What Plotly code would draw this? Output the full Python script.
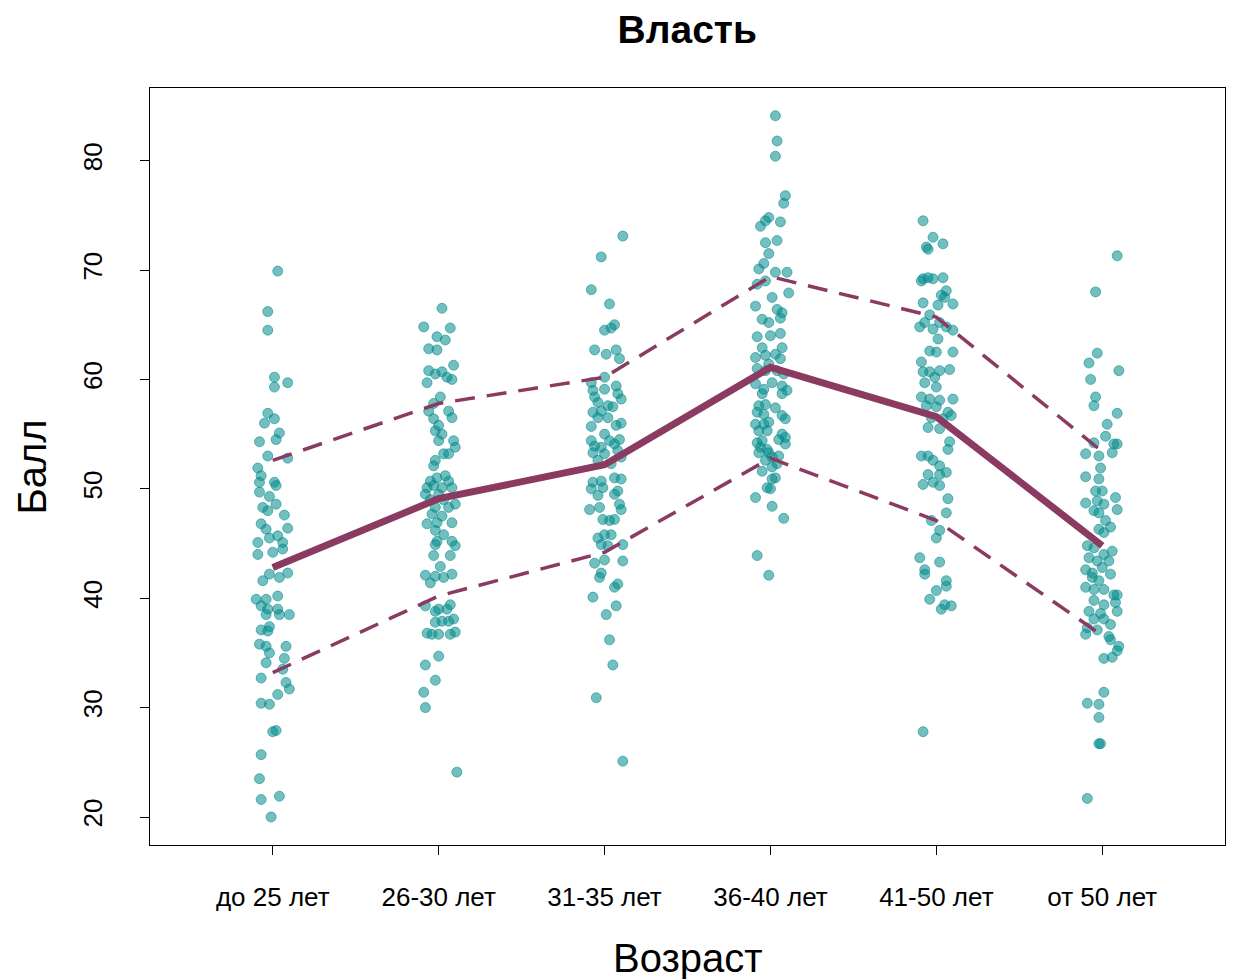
import plotly.graph_objects as go

categories = ["до 25 лет", "26-30 лет", "31-35 лет", "36-40 лет", "41-50 лет", "от 50 лет"]

g1_y = [69.9, 66.2, 64.5, 60.2, 59.7, 59.3, 56.9, 56.4, 56.0, 55.1, 54.5, 54.3, 53.0, 52.8, 51.9, 51.2,
        50.6, 50.6, 50.3, 49.7, 49.3, 48.6, 48.3, 48.0, 47.6, 46.8, 46.3, 46.4, 45.1, 45.5, 45.7, 45.1,
        44.0, 44.2, 44.5, 42.2, 41.6, 41.9, 42.3, 39.9, 39.9, 40.2, 39.3, 39.0, 39.0, 38.5, 38.5, 38.5,
        37.1, 37.0, 37.4, 35.8, 35.6, 35.0, 35.6, 34.5, 34.1, 33.5, 32.3, 31.7, 32.7, 31.2, 30.4, 30.3,
        27.8, 27.9, 25.7, 23.5, 21.6, 21.9, 20.0]
g1_j = [0.03, -0.03, -0.03, 0.01, 0.09, 0.01, -0.03, 0.01, -0.05, 0.04, 0.02, -0.08, -0.03, 0.09, -0.09, -0.07,
        -0.08, 0.01, 0.02, -0.08, -0.02, 0.02, -0.06, -0.03, 0.07, -0.07, -0.04, 0.09, -0.09, -0.02, 0.03, 0.06,
        -0.09, 0.00, 0.06, -0.02, -0.06, 0.04, 0.09, -0.10, -0.04, 0.03, -0.07, -0.03, 0.03, 0.04, 0.10, -0.04,
        -0.07, -0.03, -0.02, -0.08, -0.04, -0.02, 0.08, 0.07, -0.04, 0.06, 0.08, 0.10, -0.07, 0.03, -0.07, -0.02,
        0.00, 0.02, -0.07, -0.08, -0.07, 0.04, -0.01]

g2_y = [66.5, 64.8, 64.7, 63.9, 63.6, 62.8, 62.7, 61.3, 60.8, 60.5, 60.7, 60.2, 60.0, 59.7, 58.4, 57.8,
        57.1, 57.1, 56.5, 56.4, 55.8, 55.3, 55.0, 54.4, 54.4, 53.8, 53.2, 53.2, 52.6, 52.1, 50.7, 51.0,
        51.2, 50.7, 50.1, 50.3, 50.1, 50.1, 49.5, 49.5, 49.0, 49.0, 48.6, 48.3, 48.3, 47.7, 47.5, 46.9,
        46.9, 46.8, 46.2, 45.8, 45.2, 45.2, 44.9, 44.8, 43.9, 43.9, 42.9, 42.1, 42.0, 41.9, 42.2, 41.4,
        39.3, 38.8, 39.4, 39.0, 39.0, 37.8, 37.9, 37.9, 38.1, 36.8, 36.7, 36.7, 36.7, 36.9, 34.7, 33.9,
        32.5, 31.4, 30.0, 24.1]
g2_j = [0.02, -0.09, 0.07, -0.01, 0.04, -0.06, -0.01, 0.09, -0.06, -0.02, 0.02, 0.05, 0.08, -0.07, 0.01, -0.03,
        -0.06, 0.06, 0.08, -0.03, 0.00, -0.02, 0.02, 0.09, 0.00, 0.10, 0.03, 0.06, -0.02, -0.03, -0.05, -0.01,
        0.04, 0.06, -0.07, -0.03, 0.02, 0.08, -0.08, 0.00, -0.05, 0.03, 0.10, -0.02, 0.06, -0.04, 0.02, 0.08,
        -0.01, -0.07, -0.02, 0.03, 0.08, -0.01, -0.02, 0.10, -0.03, 0.07, 0.01, -0.08, -0.02, 0.03, 0.08, -0.05,
        -0.08, -0.02, 0.07, 0.00, 0.05, -0.02, 0.02, 0.06, 0.09, -0.07, -0.04, 0.00, 0.07, 0.10, 0.00, -0.08,
        -0.02, -0.09, -0.08, 0.11]

g3_y = [73.1, 71.2, 68.2, 66.9, 65.0, 64.5, 64.7, 62.7, 62.3, 62.7, 61.9, 60.2, 59.7, 59.0, 59.1, 59.4,
        58.4, 58.7, 57.9, 57.6, 58.2, 57.0, 57.5, 57.1, 56.5, 56.5, 55.7, 56.0, 55.8, 55.0, 54.4, 54.4,
        54.5, 53.9, 54.1, 53.8, 53.3, 53.2, 53.5, 52.9, 52.6, 52.3, 50.6, 50.7, 51.0, 50.9, 50.0, 50.1,
        49.8, 49.4, 49.5, 48.1, 48.3, 48.1, 48.6, 47.2, 47.1, 47.2, 45.5, 45.8, 45.8, 44.9, 44.8, 44.9,
        43.2, 43.5, 43.4, 42.3, 41.9, 41.3, 41.0, 40.1, 39.3, 38.5, 36.2, 33.9, 30.9, 25.1]
g3_j = [0.11, -0.02, -0.08, 0.03, 0.06, 0.00, 0.04, -0.06, 0.01, 0.07, 0.09, 0.00, -0.08, -0.07, 0.00, 0.07,
        -0.06, 0.08, -0.04, 0.02, 0.10, -0.07, 0.05, -0.02, -0.04, 0.02, -0.08, 0.10, 0.07, 0.00, -0.08, 0.03,
        0.09, -0.06, 0.06, -0.02, -0.07, 0.00, 0.08, 0.10, -0.04, 0.04, -0.07, -0.02, 0.06, 0.10, -0.08, -0.01,
        0.08, -0.04, 0.06, -0.09, -0.03, 0.10, 0.09, -0.01, 0.03, 0.06, -0.04, 0.00, 0.04, -0.02, 0.02, 0.11,
        -0.06, 0.00, 0.11, -0.02, -0.03, 0.08, 0.06, -0.07, 0.07, 0.01, 0.03, 0.05, -0.05, 0.11]

g4_y = [84.1, 81.8, 80.4, 76.8, 76.1, 74.8, 74.5, 74.0, 74.4, 72.5, 72.7, 71.5, 70.6, 70.1, 69.8, 69.8,
        68.7, 69.0, 67.5, 67.9, 66.7, 66.4, 66.1, 65.5, 65.2, 65.6, 63.9, 64.0, 64.2, 62.9, 62.9, 62.0,
        62.2, 62.3, 61.9, 61.4, 61.0, 60.8, 60.8, 60.5, 59.6, 59.1, 59.7, 59.4, 59.0, 58.7, 58.7, 57.6,
        57.7, 57.4, 57.0, 56.8, 56.7, 56.4, 55.9, 55.9, 56.1, 55.3, 55.3, 55.0, 54.5, 54.7, 54.2, 54.4,
        54.1, 53.8, 53.6, 53.3, 53.3, 53.0, 52.9, 52.6, 52.3, 52.0, 51.6, 51.0, 50.9, 50.1, 50.0, 49.2,
        48.4, 47.3, 43.9, 42.1]
g4_j = [0.03, 0.04, 0.03, 0.09, 0.08, -0.01, -0.03, -0.06, 0.06, -0.03, 0.04, -0.01, -0.04, -0.07, 0.03, 0.10,
        -0.08, -0.03, 0.01, 0.11, -0.09, 0.04, 0.07, -0.05, -0.01, 0.06, -0.08, 0.00, 0.06, -0.05, 0.07, -0.09,
        -0.03, 0.03, 0.06, -0.01, -0.08, -0.03, 0.04, 0.08, -0.09, -0.04, 0.01, 0.07, 0.10, -0.05, 0.07, -0.07,
        -0.03, 0.03, -0.08, -0.04, 0.07, 0.09, -0.09, -0.04, -0.01, -0.07, -0.02, 0.07, 0.05, 0.09, -0.08, -0.05,
        0.09, -0.06, -0.02, -0.07, -0.01, 0.05, 0.01, -0.03, 0.04, 0.01, -0.05, 0.03, 0.01, -0.02, 0.00, -0.09,
        0.01, 0.08, -0.08, -0.01]

g5_y = [74.5, 73.0, 72.4, 72.1, 71.9, 69.2, 69.3, 69.2, 69.3, 69.0, 68.1, 67.7, 67.5, 66.9, 66.8, 67.0,
        65.9, 65.2, 65.2, 64.8, 64.6, 64.8, 64.5, 63.7, 62.6, 62.5, 62.5, 61.6, 60.7, 60.7, 60.8, 60.9,
        59.7, 60.2, 59.3, 58.4, 58.2, 58.1, 58.2, 57.6, 57.5, 57.0, 56.7, 56.5, 56.4, 55.6, 55.5, 54.3,
        53.6, 53.0, 53.0, 52.6, 52.1, 51.5, 51.3, 51.3, 50.4, 50.6, 50.3, 49.1, 47.8, 47.1, 45.5, 46.2,
        43.7, 43.3, 42.6, 42.2, 41.6, 41.1, 40.7, 39.9, 39.4, 39.3, 39.0, 27.8]
g5_j = [-0.08, -0.02, 0.04, -0.06, -0.05, -0.08, -0.05, -0.02, 0.04, -0.09, 0.06, 0.03, 0.05, 0.10, 0.01, -0.08,
        -0.04, -0.07, 0.02, -0.10, -0.02, 0.06, 0.10, 0.01, -0.04, 0.00, 0.10, -0.09, -0.08, -0.04, 0.02, 0.08,
        -0.07, -0.01, 0.00, -0.09, -0.04, 0.02, 0.10, -0.06, 0.00, 0.07, 0.09, -0.03, 0.04, -0.05, 0.02, 0.08,
        0.07, -0.09, -0.05, -0.02, 0.02, 0.06, -0.05, 0.02, -0.08, -0.02, 0.02, 0.07, 0.06, -0.03, 0.00, 0.02,
        -0.10, 0.02, -0.07, -0.07, 0.06, 0.06, 0.00, -0.04, 0.05, 0.09, 0.03, -0.08]

g6_y = [71.3, 68.0, 62.4, 61.5, 60.8, 60.0, 58.4, 57.6, 56.9, 55.9, 54.8, 54.2, 54.1, 54.1, 53.2, 53.0,
        53.3, 51.9, 51.1, 50.9, 49.8, 49.8, 49.2, 48.1, 48.7, 48.9, 48.6, 48.0, 47.8, 47.1, 46.5, 46.3,
        46.0, 44.8, 44.6, 44.3, 44.0, 43.7, 43.4, 43.4, 42.2, 42.6, 42.3, 42.8, 41.9, 41.6, 41.0, 40.8,
        40.8, 40.3, 40.3, 39.6, 39.8, 39.4, 38.8, 38.6, 38.8, 38.1, 38.1, 37.3, 37.1, 37.6, 36.7, 36.5,
        36.2, 35.6, 35.2, 34.5, 34.6, 31.4, 30.4, 30.3, 29.1, 26.7, 26.7, 21.7]
g6_j = [0.09, -0.04, -0.03, -0.08, 0.10, -0.07, -0.04, -0.05, 0.09, 0.03, 0.02, -0.05, 0.07, 0.09, -0.10, -0.02,
        0.06, -0.01, -0.10, -0.02, -0.04, 0.00, 0.08, 0.09, -0.10, -0.03, 0.01, -0.05, -0.02, 0.02, 0.05, -0.02,
        0.01, -0.09, -0.05, 0.06, 0.01, -0.08, -0.03, 0.04, 0.05, -0.10, -0.06, 0.00, -0.06, -0.02, -0.10, -0.05,
        0.01, 0.07, 0.09, 0.08, -0.05, 0.01, -0.08, -0.01, 0.09, -0.05, 0.01, -0.09, -0.03, 0.05, -0.10, 0.04,
        0.05, 0.10, 0.09, 0.01, 0.06, 0.01, -0.09, -0.02, -0.02, -0.02, -0.01, -0.09]

group_y = [g1_y, g2_y, g3_y, g4_y, g5_y, g6_y]
group_j = [g1_j, g2_j, g3_j, g4_j, g5_j, g6_j]

mean_vals = [42.8, 49.1, 52.2, 61.1, 56.6, 44.8]
upper_vals = [52.6, 57.8, 60.2, 69.4, 65.7, 53.4]
lower_vals = [33.2, 40.2, 44.2, 52.8, 47.1, 36.6]

positions = list(range(1, len(categories) + 1))

pts_x, pts_y = [], []
for i, (ys, js) in enumerate(zip(group_y, group_j)):
    for y, j in zip(ys, js):
        pts_x.append(positions[i] + j)
        pts_y.append(y)

PT = "rgba(0,139,139,0.55)"
LINE = "#8B3A62"
FONT = "Liberation Sans, Arial, sans-serif"

fig = go.Figure()
fig.add_trace(go.Scatter(x=pts_x, y=pts_y, mode="markers",
                         marker=dict(size=10, color=PT, line=dict(color=PT, width=1)),
                         showlegend=False, hoverinfo="skip"))
fig.add_trace(go.Scatter(x=positions, y=upper_vals, mode="lines",
                         line=dict(color=LINE, width=3.5, dash="20px,12px"), showlegend=False))
fig.add_trace(go.Scatter(x=positions, y=lower_vals, mode="lines",
                         line=dict(color=LINE, width=3.5, dash="20px,12px"), showlegend=False))
fig.add_trace(go.Scatter(x=positions, y=mean_vals, mode="lines",
                         line=dict(color=LINE, width=7), showlegend=False))

fig.update_layout(
    width=1226, height=971,
    margin=dict(l=142, r=9, t=80, b=134),
    plot_bgcolor="white", paper_bgcolor="white",
    font=dict(family=FONT, color="black"),
    title=dict(text="<b>Власть</b>", x=0.554, xanchor="center", y=0.978, yanchor="middle",
               font=dict(size=39, family=FONT, color="black")),
    showlegend=False,
)
fig.update_xaxes(range=[0.26, 6.74], tickvals=positions, ticktext=categories,
                 showgrid=False, zeroline=False, showline=True, linecolor="black", linewidth=1,
                 mirror=True, ticks="outside", ticklen=9, tickcolor="black",
                 tickfont=dict(size=26, family=FONT, color="black"), ticklabelstandoff=20)
fig.update_yaxes(range=[17.44, 86.64], tickvals=[20, 30, 40, 50, 60, 70, 80],
                 showgrid=False, zeroline=False, showline=True, linecolor="black", linewidth=1,
                 mirror=True, ticks="outside", ticklen=9, tickcolor="black", tickangle=-90,
                 tickfont=dict(size=26, family=FONT, color="black"), ticklabelstandoff=28)

fig.add_annotation(text="Возраст", xref="paper", yref="paper", x=0.5, y=-0.149,
                   xanchor="center", yanchor="middle", showarrow=False,
                   font=dict(size=40, family=FONT, color="black"))
fig.add_annotation(text="Балл", xref="paper", yref="paper", x=-0.1098, y=0.5,
                   xanchor="center", yanchor="middle", textangle=-90, showarrow=False,
                   font=dict(size=40, family=FONT, color="black"))

fig.write_html("out.html")
